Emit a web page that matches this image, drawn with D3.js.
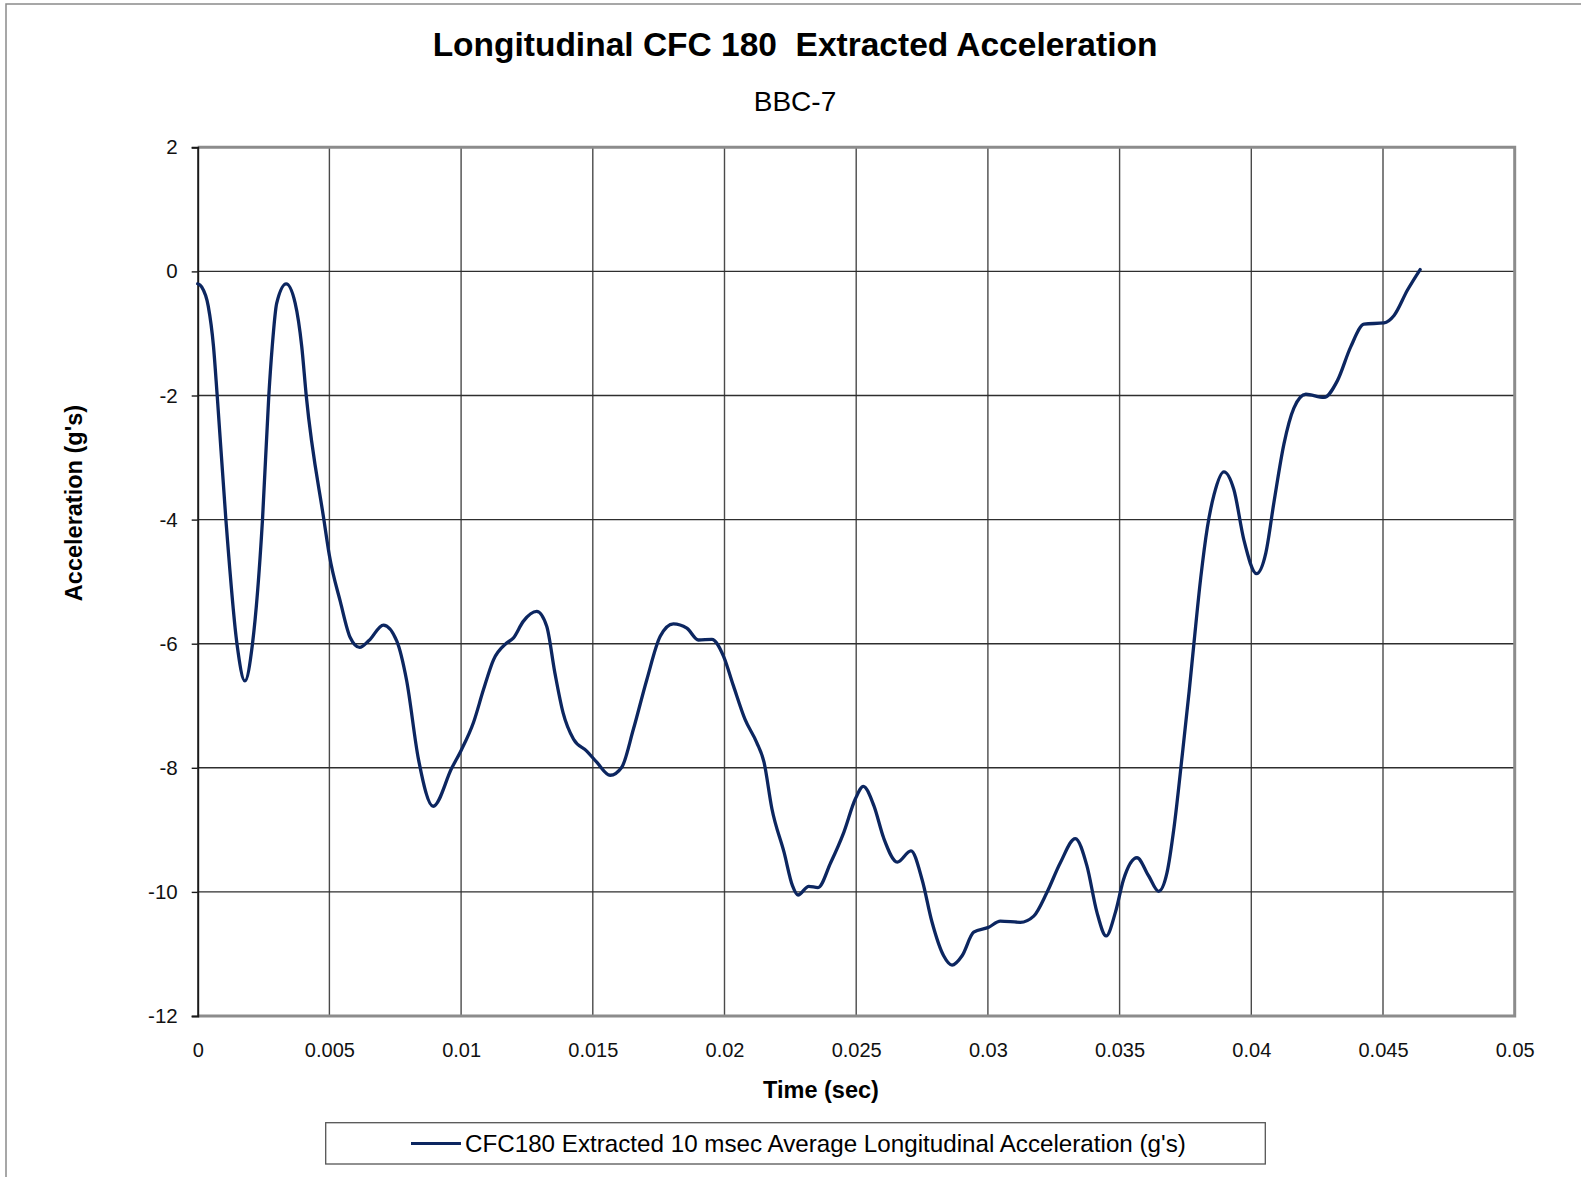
<!DOCTYPE html>
<html>
<head>
<meta charset="utf-8">
<script src="https://cdn.jsdelivr.net/npm/d3@7"></script>
<style>
  html, body { margin: 0; padding: 0; background: #fff; }
  svg { display: block; font-family: "Liberation Sans", Arial, sans-serif; }
</style>
</head>
<body>
<svg id="chart" width="1581" height="1177"></svg>
<script>
// ---- data ----
const titleText = "Longitudinal CFC 180\u00a0 Extracted Acceleration";
const subtitleText = "BBC-7";
const xTitle = "Time (sec)";
const yTitle = "Acceleration (g's)";
const seriesName = "CFC180 Extracted 10 msec Average Longitudinal Acceleration (g's)";

const xTicks = [0, 0.005, 0.01, 0.015, 0.02, 0.025, 0.03, 0.035, 0.04, 0.045, 0.05];
const xTickLabels = ["0", "0.005", "0.01", "0.015", "0.02", "0.025", "0.03", "0.035", "0.04", "0.045", "0.05"];
const yTicks = [-12, -10, -8, -6, -4, -2, 0, 2];
const yTickLabels = ["-12", "-10", "-8", "-6", "-4", "-2", "0", "2"];

const time = [
  0, 0.00015, 0.0004, 0.0006, 0.00074, 0.00107, 0.00149, 0.00179, 0.00208, 0.00246,
  0.0027, 0.00283, 0.003, 0.00336, 0.0037, 0.00395, 0.00412, 0.00479, 0.005, 0.00542,
  0.00579, 0.00615, 0.0065, 0.00705, 0.00756, 0.00793, 0.00838, 0.00894, 0.00965, 0.01,
  0.01047, 0.01085, 0.01123, 0.01173, 0.01198, 0.01236, 0.01287, 0.01325, 0.01356, 0.01387,
  0.01427, 0.01477, 0.01515, 0.01566, 0.0161, 0.01654, 0.01705, 0.01756, 0.01806, 0.01857,
  0.01901, 0.01952, 0.01996, 0.02034, 0.02078, 0.02122, 0.0215, 0.0218, 0.02226, 0.02258,
  0.02279, 0.0232, 0.02355, 0.02403, 0.02453, 0.02497, 0.02527, 0.02567, 0.02605, 0.02656,
  0.02708, 0.0275, 0.02788, 0.02832, 0.02864, 0.02902, 0.02946, 0.03003, 0.03047, 0.03123,
  0.03174, 0.03224, 0.03275, 0.03332, 0.03376, 0.03414, 0.03449, 0.03484, 0.03515, 0.03566,
  0.0361, 0.03648, 0.0368, 0.03707, 0.03738, 0.03764, 0.03783, 0.03808, 0.03833, 0.03859,
  0.03896, 0.03934, 0.03972, 0.0402, 0.04055, 0.04086, 0.04124, 0.04162, 0.04207, 0.04276,
  0.04327, 0.04377, 0.04428, 0.04504, 0.04542, 0.04593, 0.04641
];
const accel = [
  -0.20, -0.25, -0.56, -1.21, -2.0, -4.0, -6.0, -6.6, -6.0, -4.0,
  -2.0, -1.21, -0.51, -0.20, -0.51, -1.21, -2.0, -4.0, -4.58, -5.33,
  -5.90, -6.06, -5.95, -5.70, -5.96, -6.59, -7.86, -8.62, -8.0, -7.72,
  -7.27, -6.74, -6.26, -5.99, -5.91, -5.64, -5.48, -5.72, -6.47, -7.11,
  -7.54, -7.73, -7.91, -8.12, -7.99, -7.38, -6.58, -5.88, -5.68, -5.75,
  -5.94, -5.93, -6.2, -6.68, -7.22, -7.59, -7.91, -8.66, -9.36, -9.9,
  -10.05, -9.91, -9.93, -9.53, -9.04, -8.5, -8.3, -8.61, -9.14, -9.52,
  -9.34, -9.8, -10.49, -11.03, -11.18, -11.03, -10.65, -10.57, -10.47, -10.49,
  -10.39, -10.01, -9.53, -9.14, -9.58, -10.33, -10.71, -10.33, -9.8, -9.45,
  -9.74, -9.99, -9.69, -8.95, -7.79, -6.77, -5.96, -4.94, -4.13, -3.59,
  -3.23, -3.52, -4.33, -4.87, -4.54, -3.72, -2.78, -2.2, -1.98, -2.03,
  -1.76, -1.22, -0.85, -0.83, -0.71, -0.3, 0.03
];

// ---- layout ----
const svg = d3.select("#chart");
const plot = { left: 197.7, right: 1514.7, top: 147.3, bottom: 1016 };
const lineColor = "#0c2660";

const x = d3.scaleLinear().domain([0, 0.05]).range([plot.left, plot.right]);
const y = d3.scaleLinear().domain([-12, 2]).range([plot.bottom, plot.top]);

// outer frame
svg.append("rect")
  .attr("x", 6).attr("y", 4).attr("width", 1600).attr("height", 1200)
  .attr("fill", "none").attr("stroke", "#8a8a8a").attr("stroke-width", 1.5);

// gridlines
svg.append("g").selectAll("line.vg").data(xTicks.slice(1, -1)).join("line")
  .attr("x1", d => x(d)).attr("x2", d => x(d))
  .attr("y1", plot.top).attr("y2", plot.bottom)
  .attr("stroke", "#4a4a4a").attr("stroke-width", 1.4);
svg.append("g").selectAll("line.hg").data(yTicks.slice(1, -1)).join("line")
  .attr("x1", plot.left).attr("x2", plot.right)
  .attr("y1", d => y(d)).attr("y2", d => y(d))
  .attr("stroke", "#2e2e2e").attr("stroke-width", 1.4);

// plot border (top, right, bottom gray)
svg.append("path")
  .attr("d", `M${plot.left},${plot.top}H${plot.right}V${plot.bottom}H${plot.left}`)
  .attr("fill", "none").attr("stroke", "#8c8c8c").attr("stroke-width", 3);

// y axis
const yAxis = d3.axisLeft(y).tickValues(yTicks).tickSize(6).tickPadding(14)
  .tickFormat((d, i) => yTickLabels[i]);
const gy = svg.append("g").attr("transform", `translate(${plot.left},0)`).call(yAxis);
gy.select(".domain").attr("stroke", "#1a1a1a").attr("stroke-width", 2);
gy.selectAll(".tick line").attr("stroke", "#1a1a1a").attr("stroke-width", 1.4);
gy.selectAll(".tick text")
  .attr("font-size", 20.5).attr("fill", "#111")
  .attr("font-family", "'Liberation Sans', Arial, sans-serif");

// x axis (labels only)
const xAxis = d3.axisBottom(x).tickValues(xTicks).tickSize(0).tickPadding(27)
  .tickFormat((d, i) => xTickLabels[i]);
const gx = svg.append("g").attr("transform", `translate(0,${plot.bottom})`).call(xAxis);
gx.select(".domain").remove();
gx.selectAll(".tick text")
  .attr("font-size", 20).attr("fill", "#111")
  .attr("font-family", "'Liberation Sans', Arial, sans-serif");

// data line
const pts = time.map((t, i) => [t, accel[i]]);
const line = d3.line().x(d => x(d[0])).y(d => y(d[1])).curve(d3.curveMonotoneX);
svg.append("path").datum(pts).attr("d", line)
  .attr("fill", "none").attr("stroke", lineColor).attr("stroke-width", 3.3)
  .attr("stroke-linejoin", "round").attr("stroke-linecap", "round");

// titles
svg.append("text").attr("x", 795).attr("y", 56).attr("text-anchor", "middle")
  .attr("font-size", 33.5).attr("font-weight", "bold").attr("fill", "#000")
  .text(titleText);
svg.append("text").attr("x", 795).attr("y", 111).attr("text-anchor", "middle")
  .attr("font-size", 28).attr("fill", "#000").text(subtitleText);
svg.append("text").attr("x", 821).attr("y", 1098).attr("text-anchor", "middle")
  .attr("font-size", 23.5).attr("font-weight", "bold").attr("fill", "#000").text(xTitle);
svg.append("text").attr("transform", "translate(82,503) rotate(-90)").attr("text-anchor", "middle")
  .attr("font-size", 23.5).attr("font-weight", "bold").attr("fill", "#000").text(yTitle);

// legend
const lg = svg.append("g");
lg.append("rect").attr("x", 325.7).attr("y", 1122.7).attr("width", 939.6).attr("height", 41.3)
  .attr("fill", "#fff").attr("stroke", "#555").attr("stroke-width", 1.3);
lg.append("line").attr("x1", 411).attr("x2", 461).attr("y1", 1143.5).attr("y2", 1143.5)
  .attr("stroke", lineColor).attr("stroke-width", 3.2);
lg.append("text").attr("x", 465).attr("y", 1152).attr("font-size", 24.2).attr("fill", "#000")
  .text(seriesName);
</script>
</body>
</html>
